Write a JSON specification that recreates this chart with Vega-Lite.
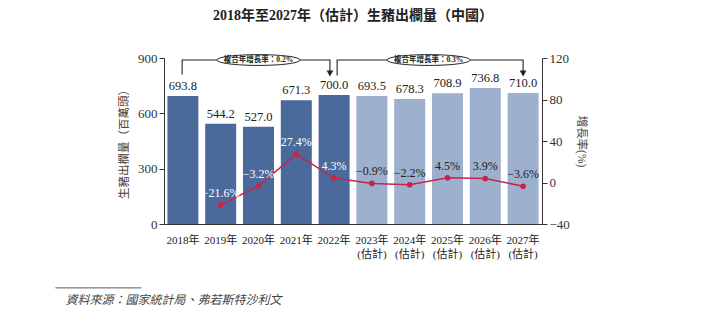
{
  "$schema": "https://vega.github.io/schema/vega-lite/v6.json",
  "width": 378,
  "height": 166,
  "autosize": {"type": "none"},
  "padding": {"left": 164, "top": 58, "right": 166, "bottom": 109},
  "background": "white",
  "title": {
    "text": "2018年至2027年（估計）生豬出欄量（中國）",
    "font": "Liberation Serif, Noto Sans CJK TC",
    "fontSize": 14,
    "fontWeight": "bold",
    "color": "#222222",
    "anchor": "middle",
    "offset": 29
  },
  "config": {
    "view": {"stroke": null},
    "axis": {"labelFont": "Liberation Serif, Noto Sans CJK TC", "titleFont": "Liberation Serif, Noto Sans CJK TC", "grid": false}
  },
  "datasets": {
    "main": [
      {"year": "2018年", "value": 693.8, "growth": null, "type": "實際"},
      {"year": "2019年", "value": 544.2, "growth": -21.6, "type": "實際"},
      {"year": "2020年", "value": 527.0, "growth": -3.2, "type": "實際"},
      {"year": "2021年", "value": 671.3, "growth": 27.4, "type": "實際"},
      {"year": "2022年", "value": 700.0, "growth": 4.3, "type": "實際"},
      {"year": "2023年(估計)", "value": 693.5, "growth": -0.9, "type": "預測"},
      {"year": "2024年(估計)", "value": 678.3, "growth": -2.2, "type": "預測"},
      {"year": "2025年(估計)", "value": 708.9, "growth": 4.5, "type": "預測"},
      {"year": "2026年(估計)", "value": 736.8, "growth": 3.9, "type": "預測"},
      {"year": "2027年(估計)", "value": 710.0, "growth": -3.6, "type": "預測"}
    ],
    "notes": [
      {"kind": "bracket", "group": "a", "step": 1, "x": 0.48, "y": 810},
      {"kind": "bracket", "group": "a", "step": 2, "x": 0.48, "y": 889},
      {"kind": "bracket", "group": "a", "step": 3, "x": 4.39, "y": 889},
      {"kind": "bracket", "group": "a", "step": 4, "x": 4.39, "y": 830},
      {"kind": "bracket", "group": "b", "step": 1, "x": 4.58, "y": 805},
      {"kind": "bracket", "group": "b", "step": 2, "x": 4.58, "y": 889},
      {"kind": "bracket", "group": "b", "step": 3, "x": 9.5, "y": 889},
      {"kind": "bracket", "group": "b", "step": 4, "x": 9.5, "y": 830},
      {"kind": "arrow", "group": "a", "x": 4.39, "y": 816},
      {"kind": "arrow", "group": "b", "x": 9.5, "y": 816},
      {"kind": "ellipse", "group": "a", "x": 2.5, "y": 889, "label": "複合年增長率：0.2%"},
      {"kind": "ellipse", "group": "b", "x": 7.0, "y": 889, "label": "複合年增長率：0.3%"}
    ]
  },
  "layer": [
    {
      "data": {"name": "main"},
      "encoding": {
        "x": {
          "field": "year",
          "type": "nominal",
          "sort": null,
          "scale": {"paddingInner": 0.18, "paddingOuter": 0.09},
          "axis": {
            "orient": "bottom",
            "domain": true,
            "domainColor": "#333333",
            "ticks": false,
            "labelAngle": 0,
            "labelFontSize": 11,
            "labelColor": "#222222",
            "labelPadding": 10,
            "labelLineHeight": 14,
            "labelExpr": "indexof(datum.value, '(') > 0 ? [slice(datum.value, 0, 5), slice(datum.value, 5)] : datum.value",
            "title": "資料來源：國家統計局、弗若斯特沙利文",
            "titleFontStyle": "italic",
            "titleFontWeight": "normal",
            "titleFontSize": 12,
            "titleColor": "#444444",
            "titleX": -99,
            "titleY": 75,
            "titleAlign": "left",
            "titleAnchor": "start",
            "titleBaseline": "middle"
          }
        }
      },
      "layer": [
        {
          "mark": {"type": "bar"},
          "encoding": {
            "y": {
              "field": "value",
              "type": "quantitative",
              "scale": {"domain": [0, 900]},
              "axis": {
                "orient": "left",
                "values": [0, 300, 600, 900],
                "domainColor": "#333333",
                "tickColor": "#333333",
                "tickSize": 5,
                "labelFontSize": 13,
                "labelColor": "#333333",
                "labelPadding": 2,
                "title": "生豬出欄量（百萬頭）",
                "titleFontSize": 11.5,
                "titleFontWeight": "normal",
                "titleColor": "#4a3f3a",
                "titlePadding": 8
              }
            },
            "color": {
              "field": "type",
              "type": "nominal",
              "scale": {"domain": ["實際", "預測"], "range": ["#4a6a9c", "#9db0ce"]},
              "legend": null
            }
          }
        },
        {
          "mark": {"type": "text", "baseline": "bottom", "dy": -3, "fontSize": 12.5, "font": "Liberation Serif, Noto Sans CJK TC", "color": "#222222"},
          "encoding": {
            "y": {"field": "value", "type": "quantitative"},
            "text": {"field": "value", "type": "quantitative", "format": ".1f"}
          }
        }
      ]
    },
    {
      "data": {"name": "main"},
      "transform": [
        {"filter": "isValid(datum.growth)"},
        {"calculate": "format(datum.growth, '.1f') + '%'", "as": "growthLabel"}
      ],
      "encoding": {
        "x": {
          "field": "year",
          "type": "nominal",
          "sort": null,
          "scale": {"domain": ["2018年", "2019年", "2020年", "2021年", "2022年", "2023年(估計)", "2024年(估計)", "2025年(估計)", "2026年(估計)", "2027年(估計)"], "paddingInner": 0.18, "paddingOuter": 0.09},
          "axis": null
        },
        "y": {
          "field": "growth",
          "type": "quantitative",
          "scale": {"domain": [-40, 120]},
          "axis": {
            "orient": "right",
            "values": [-40, 0, 40, 80, 120],
            "domainColor": "#333333",
            "tickColor": "#333333",
            "tickSize": 5,
            "labelFontSize": 13,
            "labelColor": "#333333",
            "labelPadding": 2,
            "title": "增長率(%)",
            "titleFontSize": 11.5,
            "titleFontWeight": "normal",
            "titleColor": "#4a3f3a",
            "titlePadding": 6
          }
        }
      },
      "layer": [
        {"mark": {"type": "line", "color": "#c8234b", "strokeWidth": 1.5}},
        {"mark": {"type": "point", "filled": true, "size": 32, "color": "#c8234b", "opacity": 1}},
        {
          "mark": {"type": "text", "baseline": "middle", "dy": -12, "fontSize": 12, "font": "Liberation Serif, Noto Sans CJK TC"},
          "encoding": {
            "text": {"field": "growthLabel"},
            "color": {"condition": {"test": "datum.type === '實際'", "value": "#ffffff"}, "value": "#222222"}
          }
        }
      ]
    },
    {
      "data": {"name": "notes"},
      "encoding": {
        "x": {
          "field": "x",
          "type": "quantitative",
          "scale": {"domain": [0, 10], "nice": false, "zero": false},
          "axis": {
            "orient": "bottom",
            "domain": false,
            "ticks": false,
            "labels": false,
            "grid": false,
            "title": "━━━━━━━━━━━━━━━",
            "titleFont": "DejaVu Sans",
            "titleFontSize": 9.5,
            "titleFontWeight": "normal",
            "titleColor": "#999999",
            "titleX": -109,
            "titleY": 63,
            "titleAlign": "left",
            "titleAnchor": "start",
            "titleBaseline": "middle"
          }
        },
        "y": {"field": "y", "type": "quantitative", "scale": {"domain": [0, 900]}, "axis": null}
      },
      "layer": [
        {
          "transform": [{"filter": "datum.kind === 'bracket'"}],
          "mark": {"type": "line", "color": "#222222", "strokeWidth": 1.1},
          "encoding": {
            "detail": {"field": "group", "type": "nominal"},
            "order": {"field": "step", "type": "quantitative"}
          }
        },
        {
          "transform": [{"filter": "datum.kind === 'arrow'"}],
          "mark": {"type": "point", "shape": "triangle-down", "filled": true, "size": 45, "color": "#222222", "opacity": 1}
        },
        {
          "transform": [{"filter": "datum.kind === 'ellipse'"}],
          "mark": {"type": "point", "shape": "M-1,0A1,0.13,0,1,1,1,0A1,0.13,0,1,1,-1,0Z", "size": 6889, "fill": "#ffffff", "stroke": "#222222", "strokeWidth": 1, "filled": false, "fillOpacity": 1, "opacity": 1}
        },
        {
          "transform": [{"filter": "datum.kind === 'ellipse'"}],
          "mark": {"type": "text", "baseline": "middle", "align": "center", "fontSize": 7.5, "fontWeight": "bold", "font": "Liberation Serif, Noto Sans CJK TC", "color": "#222222"},
          "encoding": {"text": {"field": "label"}}
        }
      ]
    }
  ],
  "resolve": {"scale": {"x": "independent", "y": "independent"}}
}
